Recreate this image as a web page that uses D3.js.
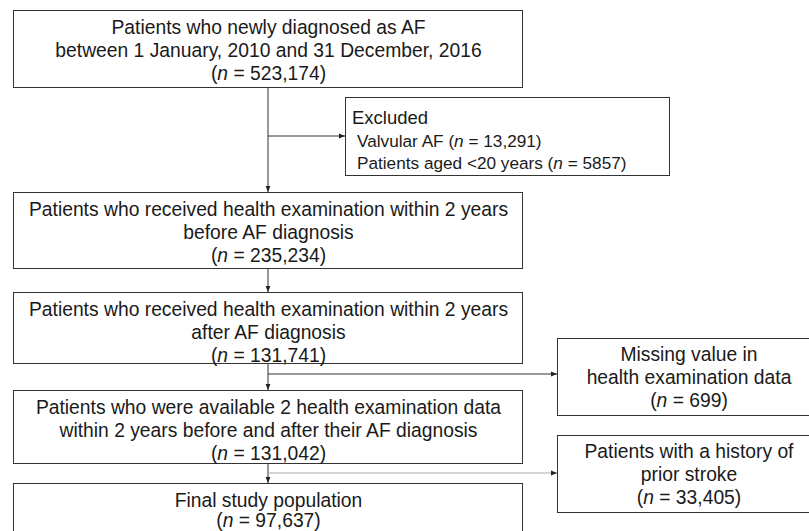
<!DOCTYPE html>
<html>
<head>
<meta charset="utf-8">
<script src="https://cdn.jsdelivr.net/npm/d3@7"></script>
<style>
  html, body { margin: 0; padding: 0; background: #fff; }
  svg { display: block; }
  text { font-family: "Liberation Sans", Arial, sans-serif; fill: #1a1a1a; }
</style>
</head>
<body>
<svg id="chart" width="809" height="531"></svg>
<script>
// ---- data ----
const stageLabels = [
  ["Patients who newly diagnosed as AF", "between 1 January, 2010 and 31 December, 2016"],
  ["Patients who received health examination within 2 years", "before AF diagnosis"],
  ["Patients who received health examination within 2 years", "after AF diagnosis"],
  ["Patients who were available 2 health examination data", "within 2 years before and after their AF diagnosis"],
  ["Final study population"]
];
const stageCounts = ["523,174", "235,234", "131,741", "131,042", "97,637"];

const excludedTitle = "Excluded";
const excludedLabels = ["Valvular AF", "Patients aged <20 years"];
const excludedCounts = ["13,291", "5857"];

const sideLabels = [
  ["Missing value in", "health examination data"],
  ["Patients with a history of", "prior stroke"]
];
const sideCounts = ["699", "33,405"];

// ---- layout ----
const svg = d3.select("#chart");
const fs = 19.3;
const mainX0 = 13, mainX1 = 522, cx = 268;
const stageBoxes = [
  {y0: 10, y1: 87, lh: 22.8},
  {y0: 192, y1: 268, lh: 22.8},
  {y0: 292, y1: 363, lh: 22.8},
  {y0: 390, y1: 463, lh: 22.8},
  {y0: 483, y1: 545, lh: 19.5}
];
const sideBoxes = [
  {x0: 557, x1: 822, y0: 338, y1: 415, ay: 374, color: "#333"},
  {x0: 557, x1: 822, y0: 435, y1: 512, ay: 473, color: "#aaa"}
];
const excl = {x0: 345, x1: 669, y0: 97, y1: 175, ay: 136};

const defs = svg.append("defs");
defs.append("marker").attr("id", "ah0")
  .attr("viewBox", "0 0 10 10").attr("refX", 10).attr("refY", 5)
  .attr("markerWidth", 6).attr("markerHeight", 6).attr("orient", "auto")
  .attr("markerUnits", "userSpaceOnUse")
  .append("path").attr("d", "M0,1 L10,5 L0,9 Z").attr("fill", "#222");

function countLine(sel, x, y, count, anchor, size) {
  const t = sel.append("text").attr("x", x).attr("y", y)
    .attr("text-anchor", anchor).attr("font-size", size);
  t.append("tspan").text("(");
  t.append("tspan").attr("font-style", "italic").text("n");
  t.append("tspan").text(" = " + count + ")");
  return t;
}

const line = (x1, y1, x2, y2, color, marker) => {
  const l = svg.append("line").attr("x1", x1).attr("y1", y1).attr("x2", x2).attr("y2", y2)
    .attr("stroke", color).attr("stroke-width", 1);
  if (marker) l.attr("marker-end", "url(#ah0)");
};

// connectors
line(cx, stageBoxes[0].y1, cx, stageBoxes[1].y0, "#333", true);
line(cx, excl.ay, excl.x0, excl.ay, "#333", true);
for (let i = 1; i < stageBoxes.length - 1; i++) {
  line(cx, stageBoxes[i].y1, cx, stageBoxes[i + 1].y0, "#333", true);
}
sideBoxes.forEach(b => line(cx, b.ay, b.x0, b.ay, b.color, true));

// stage boxes
stageBoxes.forEach((b, i) => {
  svg.append("rect").attr("x", mainX0 + 0.5).attr("y", b.y0 + 0.5)
    .attr("width", mainX1 - mainX0).attr("height", b.y1 - b.y0)
    .attr("fill", "#fff").attr("stroke", "#333").attr("stroke-width", 1);
  const mid = (mainX0 + mainX1) / 2 + 1;
  const lines = stageLabels[i];
  const base = b.y0 + 24;
  lines.forEach((s, j) => {
    svg.append("text").attr("x", mid).attr("y", base + j * b.lh)
      .attr("text-anchor", "middle").attr("font-size", fs).text(s);
  });
  countLine(svg, mid, base + lines.length * b.lh, stageCounts[i], "middle", fs);
});

// excluded box
svg.append("rect").attr("x", excl.x0 + 0.5).attr("y", excl.y0 + 0.5)
  .attr("width", excl.x1 - excl.x0).attr("height", excl.y1 - excl.y0)
  .attr("fill", "#fff").attr("stroke", "#333");
svg.append("text").attr("x", 352).attr("y", 124).attr("font-size", 18.5).text(excludedTitle);
excludedLabels.forEach((s, j) => {
  const t = svg.append("text").attr("x", 357).attr("y", 147 + j * 22).attr("font-size", 17.2);
  t.append("tspan").text(s + " (");
  t.append("tspan").attr("font-style", "italic").text("n");
  t.append("tspan").text(" = " + excludedCounts[j] + ")");
});

// side boxes
sideBoxes.forEach((b, i) => {
  svg.append("rect").attr("x", b.x0 + 0.5).attr("y", b.y0 + 0.5)
    .attr("width", b.x1 - b.x0).attr("height", b.y1 - b.y0)
    .attr("fill", "#fff").attr("stroke", "#333");
  const mid = 689;
  const lines = sideLabels[i];
  lines.forEach((s, j) => {
    svg.append("text").attr("x", mid).attr("y", b.y0 + 23 + j * 22.8)
      .attr("text-anchor", "middle").attr("font-size", fs).text(s);
  });
  countLine(svg, mid, b.y0 + 23 + lines.length * 22.8, sideCounts[i], "middle", fs);
});
</script>
</body>
</html>
